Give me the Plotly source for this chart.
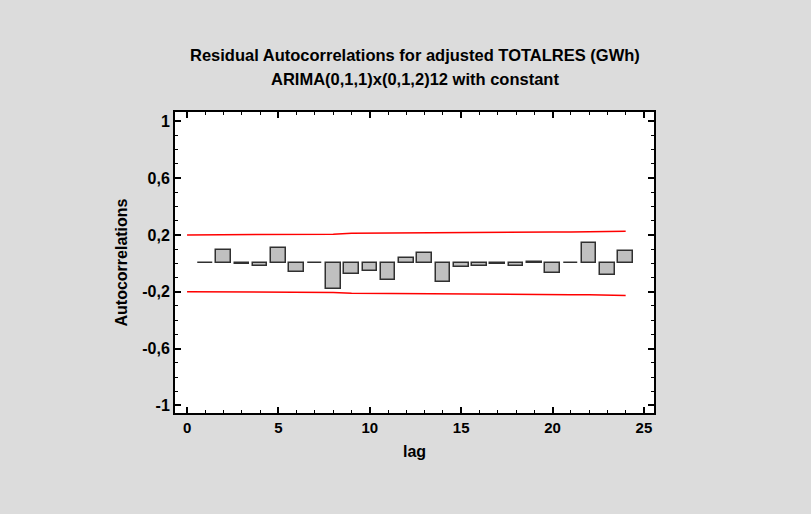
import plotly.graph_objects as go

lags = list(range(1, 25))
acf = [0.005, 0.092, -0.005, -0.019, 0.108, -0.061, 0.001, -0.178,
       -0.077, -0.054, -0.117, 0.038, 0.073, -0.134, -0.026, -0.016,
       -0.005, -0.016, 0.008, -0.066, 0.005, 0.145, -0.080, 0.084]
limit_lags = list(range(0, 25))
upper = [0.200, 0.200, 0.200, 0.202, 0.202, 0.202, 0.204, 0.205, 0.205,
         0.211, 0.212, 0.213, 0.215, 0.215, 0.216, 0.220, 0.220, 0.220,
         0.220, 0.220, 0.220, 0.221, 0.221, 0.224, 0.226]
lower = [-v for v in upper]
ytickvals = [-1, -0.6, -0.2, 0.2, 0.6, 1]
yticktext = ["-1", "-0,6", "-0,2", "0,2", "0,6", "1"]
xtickvals = [0, 5, 10, 15, 20, 25]
title_lines = ["Residual Autocorrelations for adjusted TOTALRES (GWh)",
               "ARIMA(0,1,1)x(0,1,2)12 with constant"]

FONT = "Liberation Sans, Arial, sans-serif"
BG = "#DCDCDC"
W, H = 811, 514
ML, MR, MT, MB = 175, 157, 112, 101
PH = H - MT - MB

fig = go.Figure()
fig.add_trace(go.Bar(x=lags, y=acf, width=0.8,
                     marker=dict(color="#C0C0C0", line=dict(color="#303030", width=1.5)),
                     showlegend=False))
fig.add_trace(go.Scatter(x=limit_lags, y=upper, mode="lines",
                         line=dict(color="#FF0000", width=1.5), showlegend=False))
fig.add_trace(go.Scatter(x=limit_lags, y=lower, mode="lines",
                         line=dict(color="#FF0000", width=1.5), showlegend=False))

annotations = []
for txt, py in zip(title_lines, [55, 79]):
    annotations.append(dict(text="<b>%s</b>" % txt, xref="paper", yref="paper",
                            x=0.5, y=(H - MB - py) / PH, xanchor="center", yanchor="middle",
                            showarrow=False, font=dict(family=FONT, size=16.5, color="black")))

fig.update_layout(
    width=W, height=H,
    paper_bgcolor=BG, plot_bgcolor="white",
    margin=dict(l=ML, r=MR, t=MT, b=MB),
    font=dict(family=FONT, size=16, color="black"),
    annotations=annotations,
    bargap=0,
)
fig.update_xaxes(range=[-0.66, 25.55], tickvals=xtickvals,
                 ticktext=["<b>%d</b>" % v for v in xtickvals],
                 tickfont=dict(size=15),
                 ticks="inside", ticklen=6, tickwidth=1.5, tickcolor="black",
                 minor=dict(dtick=1, tick0=0, ticks="inside", ticklen=3, tickcolor="black", tickwidth=1),
                 showline=True, linecolor="black", linewidth=2, mirror="allticks",
                 showgrid=False, zeroline=False,
                 title=dict(text="<b>lag</b>", standoff=11, font=dict(size=16)))
fig.update_yaxes(range=[-1.053, 1.065], tickvals=ytickvals,
                 ticktext=["<b>%s</b>" % t for t in yticktext],
                 tickfont=dict(size=16),
                 ticks="inside", ticklen=6, tickwidth=1.5, tickcolor="black",
                 minor=dict(dtick=0.1, tick0=0, ticks="inside", ticklen=3, tickcolor="black", tickwidth=1),
                 showline=True, linecolor="black", linewidth=2, mirror="allticks",
                 showgrid=False, zeroline=False,
                 title=dict(text="<b>Autocorrelations</b>", standoff=11, font=dict(size=16)))

fig.write_html("out.html")
